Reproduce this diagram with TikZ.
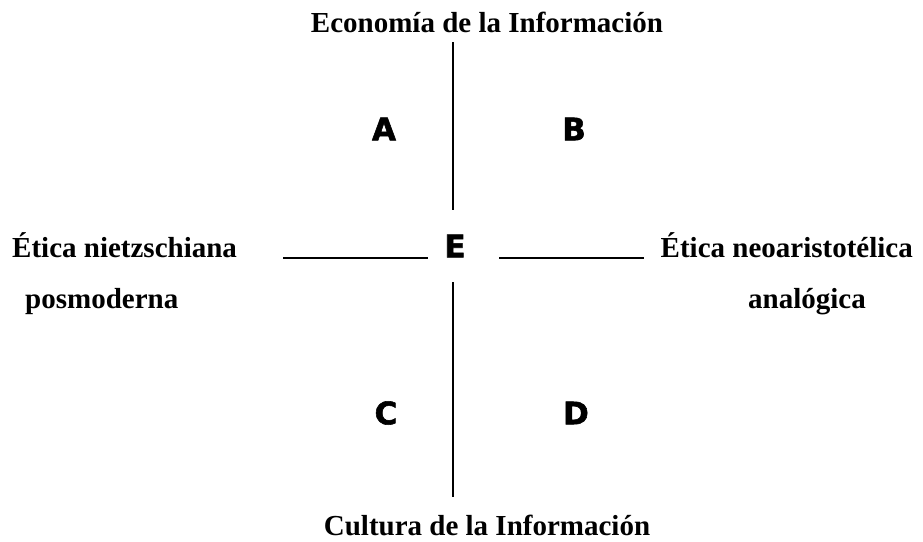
\documentclass[tikz,border=0pt]{standalone}
\usepackage{fontspec}
\setmainfont{Liberation Serif}
\newfontfamily\letterfont[BoldFeatures={FakeBold=1.8}]{DejaVu Sans}
\begin{document}
\begin{tikzpicture}[x=1pt,y=-1pt,
  lab/.style={font=\fontsize{29}{34}\selectfont\bfseries, inner sep=0pt, anchor=base},
  quad/.style={font=\letterfont\fontsize{31}{34}\selectfont\bfseries, inner sep=0pt},
  axis/.style={line width=1.6pt}]
\useasboundingbox (0,0) rectangle (923,541);
\node[lab] (top) at (487,32) {Economía de la Información};
\node[lab] (bot) at (487,535) {Cultura de la Información};
\node[lab, anchor=base west] (l1) at (12,257) {Ética nietzschiana};
\node[lab, anchor=base west] (l2) at (25,308) {posmoderna};
\node[lab, anchor=base east] (r1) at (913,257) {Ética neoaristotélica};
\node[lab] (r2) at (807,308) {analógica};
\node[quad] (A) at (384,129) {A};
\node[quad] (B) at (574,129) {B};
\node[quad] (C) at (386,413) {C};
\node[quad] (D) at (576,413) {D};
\node[quad] (E) at (455,246) {E};
\coordinate (v1a) at (453,42);
\coordinate (v1b) at (453,210);
\coordinate (v2a) at (453,282);
\coordinate (v2b) at (453,497);
\coordinate (h1a) at (283,258);
\coordinate (h1b) at (428,258);
\coordinate (h2a) at (499,258);
\coordinate (h2b) at (644,258);
\draw[axis] (v1a) -- (v1b);
\draw[axis] (v2a) -- (v2b);
\draw[axis] (h1a) -- (h1b);
\draw[axis] (h2a) -- (h2b);
\end{tikzpicture}
\end{document}
